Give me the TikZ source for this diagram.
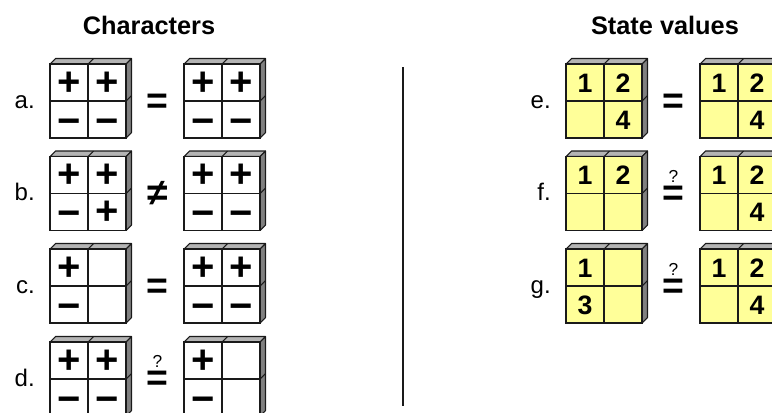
\documentclass[tikz,border=0pt]{standalone}
\usepackage{fontspec}
\setmainfont{Liberation Sans}
\definecolor{topgray}{HTML}{B4B4B4}
\definecolor{sidegray}{HTML}{808080}
\definecolor{stateyellow}{HTML}{FFFF99}
\definecolor{edgecol}{HTML}{1A1A1A}
\tikzset{
  cellbox/.style={draw=edgecol, line width=1.1pt, minimum width=28.5pt, minimum height=27.75pt,
    inner sep=0pt, outer sep=0pt, anchor=north west},
  charcell/.style={cellbox, fill=white, font=\fontsize{30}{30}\selectfont\bfseries,
    text height=19pt, text depth=0pt},
  numcell/.style={cellbox, fill=stateyellow, font=\fontsize{20}{20}\selectfont\bfseries,
    text height=14.3pt, text depth=0pt},
  face/.style={draw=edgecol, line width=0.8pt, line join=round},
  rowlabel/.style={anchor=base east, font=\fontsize{18}{18}\selectfont, inner sep=0pt},
  relsign/.style={font=\fontsize{28}{28}\selectfont\bfseries, inner sep=0pt, anchor=base},
  title/.style={font=\fontsize{19}{19}\selectfont\bfseries, anchor=base, inner sep=0pt},
}
\newcommand\mn{\raisebox{-1.6pt}{−}}
\newcommand\qeq{\ooalign{\hfil\raisebox{17.2pt}{\fontsize{13}{13}\selectfont\mdseries ?}\hfil\cr=\cr}}
% #1 name, #2 X, #3 Y, #4 cell style, #5-#8 contents tl tr bl br
\newcommand\cubebox[8]{%
  \filldraw[face, fill=topgray] (#2,#3) -- ++(5.5,-5.5) -- ++(76,0) -- ++(-5.5,5.5) -- cycle;
  \filldraw[face, fill=sidegray] ({#2+76},#3) -- ++(5.5,-5.5) -- ++(0,74) -- ++(-5.5,5.5) -- cycle;
  \draw[face] ({#2+38},#3) -- ++(5.5,-5.5);
  \draw[face] ({#2+76},{#3+37}) -- ++(5.5,-5.5);
  \node[#4] (#1tl) at (#2,#3) {#5};
  \node[#4] (#1tr) at ({#2+38},#3) {#6};
  \node[#4] (#1bl) at (#2,{#3+37}) {#7};
  \node[#4] (#1br) at ({#2+38},{#3+37}) {#8};
}
\begin{document}
\begin{tikzpicture}[x=0.75pt,y=-0.75pt]
\useasboundingbox (0,0) rectangle (772,412);
\clip (0,0) rectangle (772,412);
\node[title] (tchar) at (149,34) {Characters};
\node[title] (tstate) at (665,34) {State values};
\coordinate (divtop) at (403,67);
\coordinate (divbot) at (403,406);
\draw[line width=1.2pt, edgecol] (divtop) -- (divbot);
% rows: Y = 64, 156.5, 249, 342 ; mid = Y+37 ; sign base = mid+12
% a
\node[rowlabel] (la) at (35,108) {a.};
\cubebox{a1}{50}{64}{charcell}{+}{+}{\mn}{\mn}
\node[relsign] (ra) at (157.5,113) {=};
\cubebox{a2}{184}{64}{charcell}{+}{+}{\mn}{\mn}
% b
\node[rowlabel] (lb) at (35,200.5) {b.};
\cubebox{b1}{50}{156.5}{charcell}{+}{+}{\mn}{+}
\node[relsign] (rb) at (157.5,205.5) {≠};
\cubebox{b2}{184}{156.5}{charcell}{+}{+}{\mn}{\mn}
% c
\node[rowlabel] (lc) at (35,293) {c.};
\cubebox{c1}{50}{249}{charcell}{+}{}{\mn}{}
\node[relsign] (rc) at (157.5,298) {=};
\cubebox{c2}{184}{249}{charcell}{+}{+}{\mn}{\mn}
% d
\node[rowlabel] (ld) at (35,386) {d.};
\cubebox{d1}{50}{342}{charcell}{+}{+}{\mn}{\mn}
\node[relsign] (rd) at (157.5,390) {\qeq};
\cubebox{d2}{184}{342}{charcell}{+}{}{\mn}{}
% e
\node[rowlabel] (le) at (551,108) {e.};
\cubebox{e1}{566}{64}{numcell}{1}{2}{}{4}
\node[relsign] (re) at (673.5,113) {=};
\cubebox{e2}{700}{64}{numcell}{1}{2}{}{4}
% f
\node[rowlabel] (lf) at (551,200.5) {f.};
\cubebox{f1}{566}{156.5}{numcell}{1}{2}{}{}
\node[relsign] (rf) at (673.5,205.5) {\qeq};
\cubebox{f2}{700}{156.5}{numcell}{1}{2}{}{4}
% g
\node[rowlabel] (lg) at (551,293) {g.};
\cubebox{g1}{566}{249}{numcell}{1}{}{3}{}
\node[relsign] (rg) at (673.5,298) {\qeq};
\cubebox{g2}{700}{249}{numcell}{1}{2}{}{4}
\end{tikzpicture}
\end{document}
